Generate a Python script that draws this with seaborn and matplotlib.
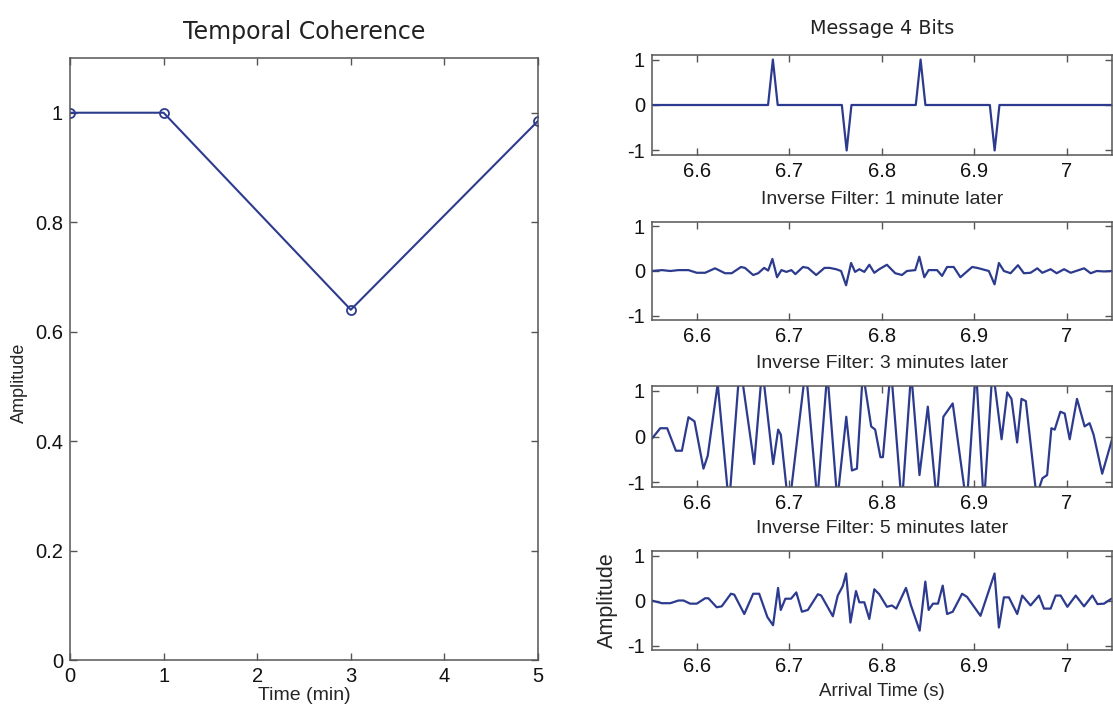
import numpy as np
import pandas as pd
import matplotlib
matplotlib.use("Agg")
import matplotlib.pyplot as plt
import seaborn as sns

# ---- Temporal coherence (left panel) ----
time_min = [0, 1, 3, 5]
coherence = [1.0, 1.0, 0.64, 0.985]

# ---- Message waveform: 4 bits ----
msg_t = [6.5516, 6.677, 6.6822, 6.6874, 6.7567, 6.7619, 6.7671, 6.8366, 6.8418, 6.847,
         6.9166, 6.9218, 6.927, 7.0486]
msg_v = [0, 0, 1, 0, 0, -1, 0, 0, 1, 0, 0, -1, 0, 0]

# ---- Inverse filter output, 1 minute later ----
inv1_t = [6.551, 6.5624, 6.5713, 6.5803, 6.5910, 6.6000, 6.6090, 6.6197, 6.6305, 6.6377,
          6.6477, 6.6520, 6.6609, 6.6663, 6.6728, 6.6771, 6.6817, 6.6867, 6.6914, 6.6968,
          6.7022, 6.7065, 6.7147, 6.7201, 6.7290, 6.7380, 6.7434, 6.7505, 6.7559, 6.7613,
          6.7667, 6.7710, 6.7756, 6.7810, 6.7864, 6.7918, 6.7971, 6.8054, 6.8144, 6.8217,
          6.8270, 6.8360, 6.8404, 6.8458, 6.8505, 6.8596, 6.8650, 6.8704, 6.8776, 6.8848,
          6.8975, 6.9029, 6.9155, 6.9217, 6.9264, 6.9318, 6.9390, 6.9470, 6.9534, 6.9606,
          6.9679, 6.9733, 6.9823, 6.9888, 6.9968, 7.0040, 7.0184, 7.0256, 7.0321, 7.0400,
          7.0480]
inv1_v = [0.00, 0.02, 0.00, 0.02, 0.02, -0.04, -0.04, 0.06, -0.05, -0.05,
          0.09, 0.07, -0.09, -0.05, 0.07, 0.01, 0.27, -0.14, 0.02, -0.02,
          0.02, -0.07, 0.09, 0.07, -0.09, 0.07, 0.07, 0.04, 0.00, -0.32,
          0.18, -0.02, 0.04, -0.02, 0.14, -0.04, 0.04, 0.14, -0.05, -0.09,
          0.00, 0.02, 0.32, -0.14, 0.02, 0.02, -0.11, 0.09, 0.09, -0.14,
          0.09, 0.07, 0.00, -0.30, 0.18, 0.00, -0.05, 0.13, -0.05, -0.04,
          0.06, -0.04, 0.04, -0.05, 0.04, -0.04, 0.06, -0.05, 0.00, -0.01,
          0.00]

# ---- Inverse filter output, 3 minutes later ----
inv3_t = [6.5510, 6.5605, 6.5680, 6.5774, 6.5839, 6.5910, 6.5975, 6.6072, 6.6118, 6.6226,
          6.6348, 6.6466, 6.6620, 6.6707, 6.6825, 6.6879, 6.6908, 6.6994, 6.7177, 6.7302,
          6.7410, 6.7518, 6.7615, 6.7676, 6.7730, 6.7794, 6.7884, 6.7927, 6.7984, 6.8011,
          6.8097, 6.8215, 6.8316, 6.8406, 6.8496, 6.8592, 6.8664, 6.8765, 6.8916, 6.9016,
          6.9102, 6.9196, 6.9293, 6.9354, 6.9400, 6.9461, 6.9508, 6.9555, 6.9670, 6.9734,
          6.9785, 6.9831, 6.9867, 6.9928, 6.9975, 7.0029, 7.0108, 7.0190, 7.0244, 7.0287,
          7.0380, 7.0467, 7.0500]
inv3_v = [-0.06, 0.18, 0.18, -0.31, -0.31, 0.42, 0.33, -0.70, -0.42, 1.15,
          -1.50, 1.60, -0.60, 1.50, -0.60, 0.15, 0.04, -1.60, 1.50, -1.40,
          1.40, -1.40, 0.43, -0.74, -0.70, 1.40, 0.22, 0.15, -0.45, -0.45,
          1.50, -1.50, 1.40, -0.84, 0.65, -1.40, 0.43, 0.72, -1.50, 1.50,
          -1.50, 1.50, -0.06, 0.96, 0.82, -0.13, 0.82, 0.77, -1.30, -0.91,
          -0.84, 0.18, 0.15, 0.54, 0.50, -0.06, 0.82, 0.22, 0.29, 0.04,
          -0.81, -0.20, 0.04]

# ---- Inverse filter output, 5 minutes later ----
inv5_t = [6.5510, 6.5624, 6.5713, 6.5803, 6.5857, 6.5928, 6.6000, 6.6090, 6.6125, 6.6215,
          6.6269, 6.6369, 6.6405, 6.6513, 6.6609, 6.6674, 6.6763, 6.6824, 6.6878, 6.6907,
          6.6957, 6.7018, 6.7075, 6.7136, 6.7200, 6.7308, 6.7344, 6.7470, 6.7523, 6.7577,
          6.7613, 6.7660, 6.7720, 6.7756, 6.7810, 6.7864, 6.7918, 6.7971, 6.8054, 6.8108,
          6.8155, 6.8260, 6.8314, 6.8408, 6.8469, 6.8505, 6.8552, 6.8606, 6.8657, 6.8704,
          6.8765, 6.8866, 6.8920, 6.9065, 6.9217, 6.9264, 6.9318, 6.9372, 6.9462, 6.9516,
          6.9606, 6.9697, 6.9751, 6.9823, 6.9877, 6.9931, 7.0004, 7.0094, 7.0184, 7.0274,
          7.0329, 7.0400, 7.0480]
inv5_v = [0.00, -0.06, -0.06, 0.00, 0.00, -0.07, -0.07, 0.05, 0.05, -0.15,
          -0.13, 0.15, 0.13, -0.30, 0.15, 0.15, -0.37, -0.55, 0.28, -0.21,
          0.04, 0.04, 0.18, -0.25, -0.21, 0.14, 0.11, -0.35, 0.11, 0.32,
          0.60, -0.49, 0.21, -0.04, -0.04, -0.41, 0.25, 0.14, -0.14, -0.11,
          -0.18, 0.28, -0.11, -0.67, 0.42, -0.21, -0.07, -0.07, 0.33, -0.30,
          -0.25, 0.15, 0.08, -0.34, 0.60, -0.60, 0.07, 0.07, -0.30, 0.11,
          -0.11, 0.11, -0.18, -0.18, 0.11, 0.11, -0.14, 0.11, -0.13, 0.11,
          -0.08, -0.07, 0.04]

panel_titles = ["Message 4 Bits",
                "Inverse Filter: 1 minute later",
                "Inverse Filter: 3 minutes later",
                "Inverse Filter: 5 minutes later"]
wave_ticks = [6.6, 6.7, 6.8, 6.9, 7.0]
wave_ticklabels = ["6.6", "6.7", "6.8", "6.9", "7"]

sns.set_theme(style="ticks")
plt.rcParams["font.family"] = ["Liberation Sans", "DejaVu Sans"]

LINE = "#2d3b8e"
SPINE = "#555555"
HEAD_FONT = ["DejaVu Sans"]

fig = plt.figure(figsize=(11.13, 7.07), dpi=100)


def style_axes(ax, size=14.5):
    for s in ax.spines.values():
        s.set_color(SPINE)
        s.set_linewidth(1.1)
    ax.tick_params(direction="in", top=True, right=True, length=5, width=1.0,
                   color=SPINE, labelsize=size, labelcolor="#111111", pad=5)


# Left: temporal coherence
axL = fig.add_axes([70 / 1113, 1 - 660 / 707, (538 - 70) / 1113, (660 - 58) / 707])
coh_df = pd.DataFrame({"t": time_min, "a": coherence})
sns.lineplot(data=coh_df, x="t", y="a", ax=axL, color=LINE, linewidth=1.5,
             marker="o", markersize=6.5, markerfacecolor="none",
             markeredgecolor=LINE, markeredgewidth=1.3)
axL.set_xlim(0, 5)
axL.set_ylim(0, 1.1)
axL.set_xticks([0, 1, 2, 3, 4, 5])
axL.set_yticks([0, 0.2, 0.4, 0.6, 0.8, 1.0])
axL.set_yticklabels(["0", "0.2", "0.4", "0.6", "0.8", "1"])
style_axes(axL)
axL.set_xlabel("Time (min)", fontsize=14, labelpad=1)
axL.set_ylabel("Amplitude", fontsize=13)
axL.yaxis.set_label_coords(-0.09, 0.46)
axL.set_title("Temporal Coherence", fontsize=17, pad=14,
              family=HEAD_FONT, color="#222222")

# Right: stacked waveform panels
panel_rows = [(55, 155), (222, 320), (386, 487), (551, 650)]
waves = [(msg_t, msg_v), (inv1_t, inv1_v), (inv3_t, inv3_v), (inv5_t, inv5_v)]
x0, x1 = 652, 1112
for i, ((top, bot), (t, v), title) in enumerate(zip(panel_rows, waves, panel_titles)):
    ax = fig.add_axes([x0 / 1113, 1 - bot / 707, (x1 - x0) / 1113, (bot - top) / 707])
    df = pd.DataFrame({"t": t, "v": v})
    sns.lineplot(data=df, x="t", y="v", ax=ax, color=LINE, linewidth=1.6)
    ax.set_xlim(6.5516, 7.0486)
    ax.set_ylim(-1.1, 1.1)
    ax.set_xticks(wave_ticks)
    ax.set_xticklabels(wave_ticklabels)
    ax.set_yticks([-1, 0, 1])
    ax.set_yticklabels(["-1", "0", "1"])
    style_axes(ax)
    ax.set_xlabel("")
    ax.set_ylabel("")
    if i == 0:
        ax.set_title(title, fontsize=13.8, pad=15, family=HEAD_FONT, color="#222222")
    else:
        ax.set_title(title, fontsize=14, pad=13)
    if i == 3:
        ax.set_xlabel("Arrival Time (s)", fontsize=13.5, labelpad=5)
        ax.set_ylabel("Amplitude", fontsize=15.5, labelpad=7)

fig.savefig("out.png", dpi=100)
